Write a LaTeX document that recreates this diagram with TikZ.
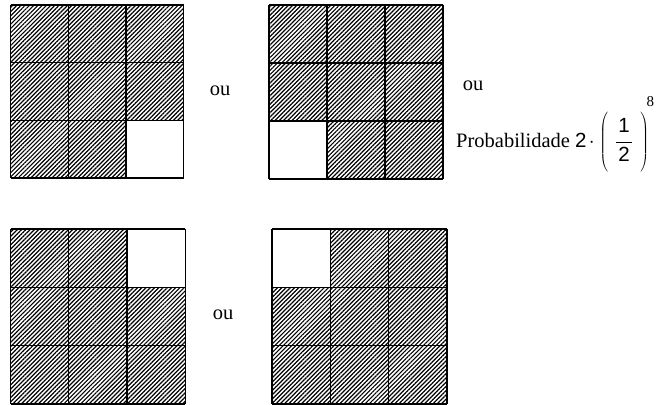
\documentclass[tikz,border=0pt]{standalone}
\usepackage{fontspec}
\setmainfont{Liberation Serif}
\setsansfont{Liberation Sans}
\usetikzlibrary{patterns.meta}

\tikzset{
  hatch/.style={pattern={Lines[angle=45,distance=3.0pt,line width=1.2pt]},pattern color=black},
  gridline/.style={line width=1.3pt,black},
  lbl/.style={inner sep=0pt,anchor=base,font=\fontsize{20.5}{24}\selectfont},
}

% 3x3 hatched board with one blank cell
% #1,#2: top-left corner; #3: cell size; #4: blank column; #5: blank row
\newcommand\hatchboard[5]{%
  \path[hatch] (#1,#2) rectangle ++({3*#3},{3*#3});
  \fill[white] ({#1+#4*#3},{#2+#5*#3}) rectangle ++(#3,#3);
  \foreach \i in {0,1,2,3}{%
    \draw[gridline] ({#1+\i*#3},#2) -- ++(0,{3*#3});
    \draw[gridline] (#1,{#2+\i*#3}) -- ++({3*#3},0);
  }%
}

\newcommand\sfd[1]{\mbox{\sffamily #1}}

\begin{document}
\begin{tikzpicture}[x=1pt,y=-1pt]
\useasboundingbox (0,0) rectangle (660,404);

\hatchboard{10.5}{5}{57.7}{2}{2}
\hatchboard{269}{5}{58}{0}{2}
\hatchboard{10.5}{229}{58.3}{2}{0}
\hatchboard{272}{229}{58.3}{0}{0}

\node[lbl] (ou1) at (220,95) {ou};
\node[lbl] (ou2) at (473,90) {ou};
\node[lbl] (ou3) at (223,319) {ou};

\node[lbl,anchor=base west] (prob) at (456,147)
  {Probabilidade \(\sfd{2}\mkern2mu{\cdot}\mkern1mu\left(\rule[-25pt]{0pt}{60pt}\mkern6mu\displaystyle\frac{\mkern2mu\sfd{1}\mkern2mu}{\sfd{2}}\mkern6mu\right)^{\mkern-3mu\raisebox{11pt}{\fontsize{15}{17}\selectfont 8}}\)};
\end{tikzpicture}
\end{document}
